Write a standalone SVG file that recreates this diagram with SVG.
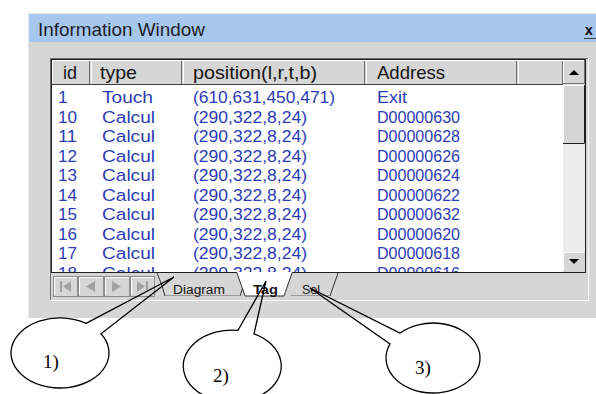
<svg xmlns="http://www.w3.org/2000/svg" width="596" height="394" viewBox="0 0 596 394">
<style>
.ui{font-family:"Liberation Sans",Arial,sans-serif}
.r{font-family:"Liberation Sans",Arial,sans-serif;font-size:17.4px;fill:#2c3cb4}
.h{font-family:"Liberation Sans",Arial,sans-serif;font-size:19px;fill:#151515}
.tb{font-family:"Liberation Sans",Arial,sans-serif;font-size:12.5px;fill:#151515}
.co{fill:none;stroke:#000;stroke-width:1.3;stroke-linejoin:miter}
.cl{font-family:"Liberation Serif","Times New Roman",serif;font-size:19px;fill:#000}
.dk{stroke:#6e6e6e;stroke-width:1;fill:none}
.wh{stroke:#ffffff;stroke-width:1;fill:none}
.bk{stroke:#202020;stroke-width:1;fill:none}
.btn{fill:#d6d6d6;stroke:#8a8a8a;stroke-width:1}
.ico{fill:#a2a2a2}
</style>
<defs>
<clipPath id="listclip"><rect x="52" y="85" width="511" height="187"/></clipPath>
</defs>
<rect width="596" height="394" fill="#ffffff"/>

<g id="window">
<rect x="28" y="13" width="570" height="305" fill="#d6d6d6"/>
<path d="M28.5 318 V13.5 H596" stroke="#e9e9e9" fill="none"/>
<rect x="29" y="14" width="567" height="28" fill="#a6c7ee"/>
<text class="ui" x="38" y="36" font-size="19" fill="#1e1e2a" textLength="167" lengthAdjust="spacingAndGlyphs">Information Window</text>
<text class="ui" x="585" y="35" font-size="14" font-weight="bold" fill="#000">x</text>
<line x1="584" y1="38.5" x2="596" y2="38.5" stroke="#404040"/>
</g>

<g id="panel">
<path d="M50.5 300 V58.5 H588" class="dk"/>
<path d="M50.5 300.5 H588.5 V58" class="wh"/>
<rect x="51.5" y="59.5" width="534" height="213" fill="#ffffff" stroke="#202020"/>
</g>

<g id="header">
<rect x="52" y="60" width="511" height="24" fill="#d6d6d6"/>
<path d="M52.5 83 V60.5 H563 M91.5 83 V61 M183.5 83 V61 M366.5 83 V61 M518.5 83 V61" class="wh"/>
<path d="M89.5 61 V84 M181.5 61 V84 M364.5 61 V84 M516.5 61 V84 M562.5 61 V84" class="dk"/>
<line x1="52" y1="84.5" x2="563" y2="84.5" stroke="#404040"/>
<text class="h" x="63" y="79" textLength="14" lengthAdjust="spacingAndGlyphs">id</text>
<text class="h" x="100" y="79" textLength="37" lengthAdjust="spacingAndGlyphs">type</text>
<text class="h" x="193" y="79" textLength="124" lengthAdjust="spacingAndGlyphs">position(l,r,t,b)</text>
<text class="h" x="377" y="79" textLength="68" lengthAdjust="spacingAndGlyphs">Address</text>
</g>

<g id="rows" clip-path="url(#listclip)">
<rect x="52" y="85" width="511" height="188" fill="#ffffff"/>
<text class="r" x="58" y="103">1</text>
<text class="r" x="102" y="103" textLength="51" lengthAdjust="spacingAndGlyphs">Touch</text>
<text class="r" x="193" y="103" textLength="142" lengthAdjust="spacingAndGlyphs">(610,631,450,471)</text>
<text class="r" x="377" y="103" textLength="30" lengthAdjust="spacingAndGlyphs">Exit</text>

<text class="r" x="58" y="122.5" textLength="19" lengthAdjust="spacingAndGlyphs">10</text>
<text class="r" x="102" y="122.5" textLength="53" lengthAdjust="spacingAndGlyphs">Calcul</text>
<text class="r" x="193" y="122.5" textLength="114" lengthAdjust="spacingAndGlyphs">(290,322,8,24)</text>
<text class="r" x="377" y="122.5" textLength="83" lengthAdjust="spacingAndGlyphs">D00000630</text>

<text class="r" x="58" y="142" textLength="19" lengthAdjust="spacingAndGlyphs">11</text>
<text class="r" x="102" y="142" textLength="53" lengthAdjust="spacingAndGlyphs">Calcul</text>
<text class="r" x="193" y="142" textLength="114" lengthAdjust="spacingAndGlyphs">(290,322,8,24)</text>
<text class="r" x="377" y="142" textLength="83" lengthAdjust="spacingAndGlyphs">D00000628</text>

<text class="r" x="58" y="161.5" textLength="19" lengthAdjust="spacingAndGlyphs">12</text>
<text class="r" x="102" y="161.5" textLength="53" lengthAdjust="spacingAndGlyphs">Calcul</text>
<text class="r" x="193" y="161.5" textLength="114" lengthAdjust="spacingAndGlyphs">(290,322,8,24)</text>
<text class="r" x="377" y="161.5" textLength="83" lengthAdjust="spacingAndGlyphs">D00000626</text>

<text class="r" x="58" y="181" textLength="19" lengthAdjust="spacingAndGlyphs">13</text>
<text class="r" x="102" y="181" textLength="53" lengthAdjust="spacingAndGlyphs">Calcul</text>
<text class="r" x="193" y="181" textLength="114" lengthAdjust="spacingAndGlyphs">(290,322,8,24)</text>
<text class="r" x="377" y="181" textLength="83" lengthAdjust="spacingAndGlyphs">D00000624</text>

<text class="r" x="58" y="200.5" textLength="19" lengthAdjust="spacingAndGlyphs">14</text>
<text class="r" x="102" y="200.5" textLength="53" lengthAdjust="spacingAndGlyphs">Calcul</text>
<text class="r" x="193" y="200.5" textLength="114" lengthAdjust="spacingAndGlyphs">(290,322,8,24)</text>
<text class="r" x="377" y="200.5" textLength="83" lengthAdjust="spacingAndGlyphs">D00000622</text>

<text class="r" x="58" y="220" textLength="19" lengthAdjust="spacingAndGlyphs">15</text>
<text class="r" x="102" y="220" textLength="53" lengthAdjust="spacingAndGlyphs">Calcul</text>
<text class="r" x="193" y="220" textLength="114" lengthAdjust="spacingAndGlyphs">(290,322,8,24)</text>
<text class="r" x="377" y="220" textLength="83" lengthAdjust="spacingAndGlyphs">D00000632</text>

<text class="r" x="58" y="239.5" textLength="19" lengthAdjust="spacingAndGlyphs">16</text>
<text class="r" x="102" y="239.5" textLength="53" lengthAdjust="spacingAndGlyphs">Calcul</text>
<text class="r" x="193" y="239.5" textLength="114" lengthAdjust="spacingAndGlyphs">(290,322,8,24)</text>
<text class="r" x="377" y="239.5" textLength="83" lengthAdjust="spacingAndGlyphs">D00000620</text>

<text class="r" x="58" y="259" textLength="19" lengthAdjust="spacingAndGlyphs">17</text>
<text class="r" x="102" y="259" textLength="53" lengthAdjust="spacingAndGlyphs">Calcul</text>
<text class="r" x="193" y="259" textLength="114" lengthAdjust="spacingAndGlyphs">(290,322,8,24)</text>
<text class="r" x="377" y="259" textLength="83" lengthAdjust="spacingAndGlyphs">D00000618</text>

<text class="r" x="58" y="278.5" textLength="19" lengthAdjust="spacingAndGlyphs">18</text>
<text class="r" x="102" y="278.5" textLength="53" lengthAdjust="spacingAndGlyphs">Calcul</text>
<text class="r" x="193" y="278.5" textLength="114" lengthAdjust="spacingAndGlyphs">(290,322,8,24)</text>
<text class="r" x="377" y="278.5" textLength="83" lengthAdjust="spacingAndGlyphs">D00000616</text>
</g>

<g id="scrollbar">
<rect x="563" y="84" width="22" height="169" fill="#ececec"/>
<rect x="563" y="60" width="22" height="24" fill="#d6d6d6"/>
<path d="M563.5 83 V60.5 H584" class="wh"/>
<path d="M563 83.5 H584.5 V60" class="dk"/>
<polygon points="569,75 579,75 574,70" fill="#000"/>
<rect x="563" y="85" width="22" height="58" fill="#d6d6d6"/>
<path d="M563.5 142 V85.5 H584" class="wh"/>
<path d="M563 143.5 H584.5 V85" class="bk"/>
<rect x="563" y="252" width="22" height="20" fill="#d6d6d6"/>
<path d="M563.5 271 V252.5 H584" class="wh"/>
<polygon points="569,259 579,259 574,264" fill="#000"/>
<line x1="585.5" y1="60" x2="585.5" y2="273" stroke="#202020"/>
</g>

<g id="tabstrip">
<rect x="52" y="273" width="533" height="25" fill="#d6d6d6"/>
<line x1="52" y1="272.5" x2="586" y2="272.5" stroke="#202020"/>
<g id="nav-buttons">
<rect class="btn" x="53.5" y="276.5" width="24" height="20"/>
<rect class="btn" x="78.5" y="276.5" width="25" height="20"/>
<rect class="btn" x="104.5" y="276.5" width="25" height="20"/>
<rect class="btn" x="130.5" y="276.5" width="24" height="20"/>
<path d="M54.5 295 V277.5 H77 M79.5 295 V277.5 H103 M105.5 295 V277.5 H129 M131.5 295 V277.5 H154" class="wh"/>
<rect class="ico" x="60" y="281" width="2" height="11"/>
<polygon class="ico" points="63,286.5 71,281 71,292"/>
<polygon class="ico" points="86,286.5 95,281 95,292"/>
<polygon class="ico" points="121,286.5 112,281 112,292"/>
<polygon class="ico" points="145,286.5 137,281 137,292"/>
<rect class="ico" x="146" y="281" width="2" height="11"/>
</g>
<g id="tab-sel">
<polygon points="283,273 291,296 330,296 338,273" fill="#d6d6d6"/>
<path d="M330 296 L338 273" stroke="#303030" fill="none"/>
<line x1="291" y1="295.5" x2="330" y2="295.5" stroke="#9a9a9a"/>
<text class="tb" x="302" y="294" textLength="18" lengthAdjust="spacingAndGlyphs">Sel</text>
</g>
<g id="tab-diagram">
<polygon points="157,273 165,296 240,296 248,273" fill="#d6d6d6"/>
<path d="M157 273 Q162 284 165 296 M240 296 L248 273" stroke="#303030" fill="none"/>
<line x1="165" y1="295.5" x2="240" y2="295.5" stroke="#9a9a9a"/>
<text class="tb" x="173" y="294" textLength="52" lengthAdjust="spacingAndGlyphs">Diagram</text>
</g>
<g id="tab-tag">
<polygon points="237,272 245,296 284,296 292,272" fill="#ffffff"/>
<path d="M237 273 L245 296 H284 L292 273" stroke="#303030" fill="none"/>
<text class="tb" x="253" y="294" font-weight="bold" textLength="25" lengthAdjust="spacingAndGlyphs">Tag</text>
</g>
</g>

<g id="callout-1">
<path class="co" d="M86 323.3 L174 277 L101 333.8 A49 35 0 1 1 86 323.3 Z"/>
<text class="cl" x="43" y="368">1)</text>
</g>
<g id="callout-2">
<path class="co" d="M238 330.3 L266 281 L254 333.8 A49 36 0 1 1 238 330.3 Z"/>
<text class="cl" x="213" y="382">2)</text>
</g>
<g id="callout-3">
<path class="co" d="M400 333.1 L310 288 L390 343.9 A47 35 0 1 0 400 333.1 Z"/>
<text class="cl" x="415" y="374">3)</text>
</g>
</svg>
